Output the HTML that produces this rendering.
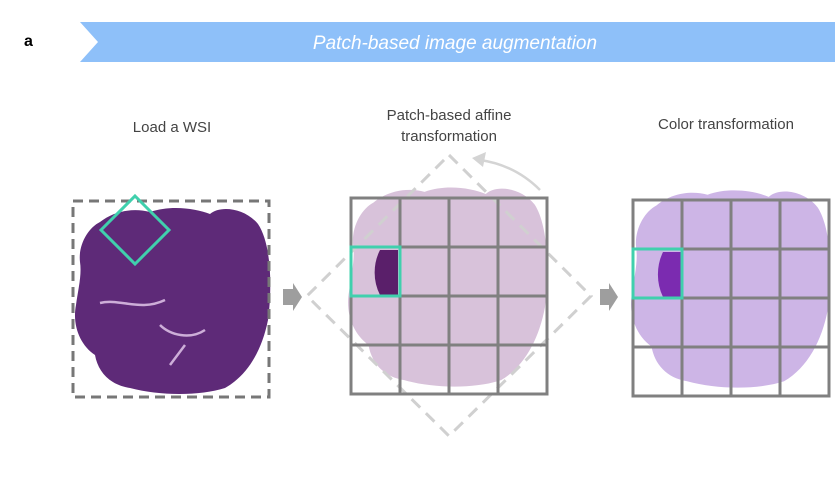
<!DOCTYPE html>
<html><head><meta charset="utf-8"><style>
body{margin:0;background:#fff;width:835px;height:482px;overflow:hidden;font-family:"Liberation Sans",sans-serif}
</style></head><body>
<svg width="835" height="482" viewBox="0 0 835 482" xmlns="http://www.w3.org/2000/svg">
<defs>
<path id="blob" d="M100,222 C115,210 135,208 150,212 C170,205 195,208 210,214 C220,205 245,208 258,224 C272,245 272,290 268,320 C262,350 248,375 225,388 C200,396 160,396 130,388 C110,385 98,372 95,355 C80,345 72,325 76,305 C78,290 82,275 80,262 C78,245 88,228 100,222 Z"/>
</defs>
<text x="24" y="46" font-size="16" font-weight="bold" fill="#000">a</text>
<polygon points="80,22 835,22 835,62 80,62 98,42" fill="#8ec0f9"/>
<text x="455" y="49" font-size="19" font-style="italic" fill="#fff" text-anchor="middle">Patch-based image augmentation</text>
<g font-size="15" fill="#444" text-anchor="middle">
<text x="172" y="132">Load a WSI</text>
<text x="449" y="120">Patch-based affine</text>
<text x="449" y="141">transformation</text>
<text x="726" y="129">Color transformation</text>
</g>
<!-- left -->
<use href="#blob" fill="#5e2a78"/>
<path d="M100,303 C120,298 140,312 165,300 M160,325 C170,335 190,340 205,330 M170,365 L185,345" stroke="#e8d0f0" stroke-width="2.5" fill="none" opacity=".8"/>
<rect x="73" y="201" width="196" height="196" fill="none" stroke="#777" stroke-width="3" stroke-dasharray="10,6"/>
<polygon points="135,196 169,230 135,264 101,230" fill="none" stroke="#40d0ad" stroke-width="3"/>
<!-- arrow 1 -->
<polygon points="283,289 293,289 293,283 302,297 293,311 293,305 283,305" fill="#9e9e9e"/>
<!-- middle -->
<use href="#blob" fill="#d8c2da" transform="translate(275,-14) translate(172,300) scale(1.02,1.07) translate(-172,-300)"/>
<polygon points="449,155 591,296 449,436 307,296" fill="none" stroke="#d0d0d0" stroke-width="3" stroke-dasharray="12,8"/>
<path d="M540,190 Q515,165 480,160" fill="none" stroke="#d4d4d4" stroke-width="2.5"/>
<polygon points="472,158 486,152 483,167" fill="#d4d4d4"/>
<path d="M380,250 A40,45 0 0 0 380,295 L398,295 L398,250 Z" fill="#5a1f6a"/>
<g fill="none" stroke="#808080" stroke-width="3">
<rect x="351" y="198" width="196" height="196"/>
<path d="M400,198V394M449,198V394M498,198V394M351,247H547M351,296H547M351,345H547"/>
</g>
<rect x="351" y="247" width="49" height="49" fill="none" stroke="#40d0ad" stroke-width="3"/>
<!-- arrow 2 -->
<polygon points="600,289 609,289 609,283 618,297 609,311 609,305 600,305" fill="#9e9e9e"/>
<!-- right -->
<use href="#blob" fill="#cdb5e6" transform="translate(558,-12) translate(172,300) scale(1.02,1.06) translate(-172,-300)"/>
<path d="M663,252 A38,45 0 0 0 663,297 L681,297 L681,252 Z" fill="#7b2bb0"/>
<g fill="none" stroke="#808080" stroke-width="3">
<rect x="633" y="200" width="196" height="196"/>
<path d="M682,200V396M731,200V396M780,200V396M633,249H829M633,298H829M633,347H829"/>
</g>
<rect x="633" y="249" width="49" height="49" fill="none" stroke="#40d0ad" stroke-width="3"/>
</svg>
</body></html>
